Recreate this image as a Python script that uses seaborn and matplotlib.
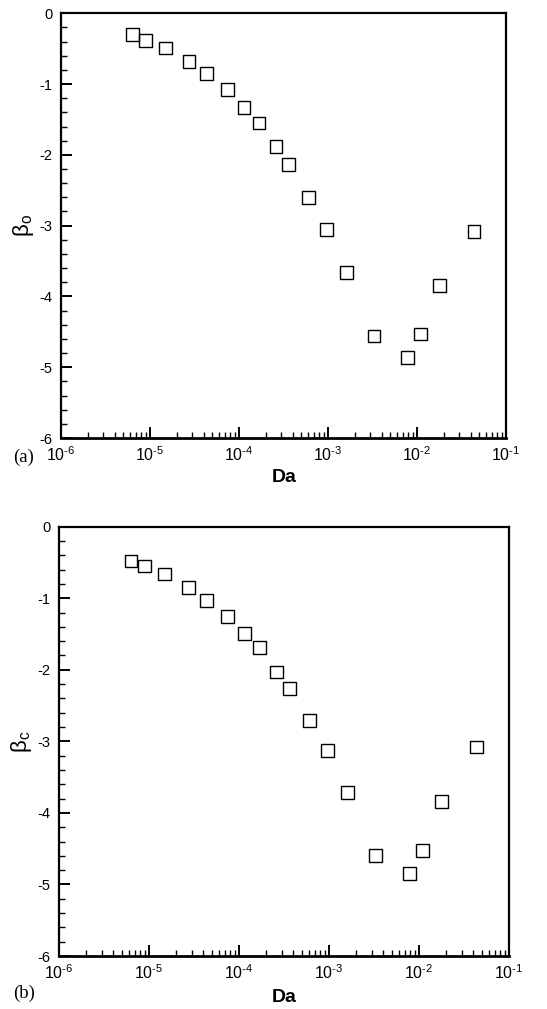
import numpy as np
import pandas as pd
import matplotlib
matplotlib.use("Agg")
import matplotlib.pyplot as plt
import matplotlib.ticker as mticker
import seaborn as sns

# Darcy numbers shared by both panels
da = [6.3e-6, 8.9e-6, 1.49e-5, 2.74e-5, 4.34e-5, 7.4e-5, 1.14e-4, 1.68e-4,
      2.61e-4, 3.61e-4, 6.07e-4, 9.66e-4, 1.62e-3, 3.29e-3, 7.78e-3,
      1.1e-2, 1.78e-2, 4.37e-2]
# panel (a): beta_o
beta_o = [-0.30, -0.38, -0.49, -0.68, -0.85, -1.08, -1.33, -1.55, -1.88,
          -2.14, -2.60, -3.06, -3.66, -4.56, -4.86, -4.53, -3.84, -3.08]
# panel (b): beta_c
beta_c = [-0.48, -0.55, -0.66, -0.85, -1.03, -1.25, -1.49, -1.69, -2.03,
          -2.26, -2.71, -3.13, -3.72, -4.60, -4.85, -4.52, -3.84, -3.08]

y_ticks = [0, -1, -2, -3, -4, -5, -6]
y_tick_labels = ["0", "-1", "-2", "-3", "-4", "-5", "-6"]
x_ticks = [1e-6, 1e-5, 1e-4, 1e-3, 1e-2, 1e-1]
x_exponents = ["-6", "-5", "-4", "-3", "-2", "-1"]

sns.set_theme(style="white")
plt.rcParams["font.family"] = ["Liberation Sans", "DejaVu Sans"]
plt.rcParams["mathtext.fontset"] = "custom"
plt.rcParams["mathtext.rm"] = "Liberation Sans"
plt.rcParams["mathtext.it"] = "Liberation Sans:italic"
plt.rcParams["mathtext.bf"] = "Liberation Sans:bold"
plt.rcParams["axes.unicode_minus"] = False

fig = plt.figure(figsize=(5.47, 10.09), dpi=100)
W, H = 547, 1009

panels = [
    dict(y=beta_o, rect=(61, 13.3, 506, 438), ylabel=r"$\mathregular{\beta_{o}}$",
         tag="(a)", tag_y=457, xl_y=478),
    dict(y=beta_c, rect=(59, 526.7, 509, 956), ylabel=r"$\mathregular{\beta_{c}}$",
         tag="(b)", tag_y=993, xl_y=998),
]

# decade labels with a plain hyphen in the exponent
x_tick_labels = [r"$\mathregular{10^{" + e.replace("-", "\u2010") + "}}$" for e in x_exponents]

for p in panels:
    x0, y0, x1, y1 = p["rect"]
    ax = fig.add_axes([x0 / W, (H - y1) / H, (x1 - x0) / W, (y1 - y0) / H])
    df = pd.DataFrame({"Da": da, "beta": p["y"]})
    sns.scatterplot(data=df, x="Da", y="beta", ax=ax, marker="s", s=85,
                    facecolor="none", edgecolor="black", linewidth=1.0,
                    zorder=3, clip_on=False)
    ax.set_xscale("log")
    ax.set_xlim(1e-6, 1e-1)
    ax.set_ylim(-6, 0)
    ax.set_yticks(y_ticks)
    ax.set_yticklabels(y_tick_labels, fontsize=10.5)
    ax.yaxis.set_minor_locator(mticker.MultipleLocator(0.2))
    ax.set_xticks(x_ticks)
    ax.set_xticklabels(x_tick_labels, fontsize=11.5)
    ax.xaxis.set_minor_locator(mticker.LogLocator(base=10, subs=np.arange(2, 10), numticks=20))
    ax.xaxis.set_minor_formatter(mticker.NullFormatter())
    for name, s in ax.spines.items():
        s.set_visible(True)
        s.set_color("black")
        s.set_linewidth(2.0 if name == "bottom" else 1.6)
    ax.tick_params(axis="both", which="major", direction="in", length=8,
                   width=1.4, color="black", labelcolor="black",
                   top=False, right=False, left=True, bottom=True)
    ax.tick_params(axis="both", which="minor", direction="in", length=4.3,
                   width=1.0, color="black", top=False, right=False,
                   left=True, bottom=True)
    ax.tick_params(axis="y", which="major", pad=6)
    ax.tick_params(axis="x", which="major", pad=5)
    ax.set_xlabel("")
    ax.set_ylabel(p["ylabel"], fontsize=16, labelpad=3, color="black")
    ax.grid(False)
    fig.text(284 / W, 1 - p["xl_y"] / H, "Da", fontsize=14,
             fontweight="bold", ha="center", va="center", color="black")
    fig.text(24 / W, 1 - p["tag_y"] / H, p["tag"], fontsize=13.5,
             family="Liberation Serif", ha="center", va="center", color="black")

fig.savefig("out.png", dpi=100)
